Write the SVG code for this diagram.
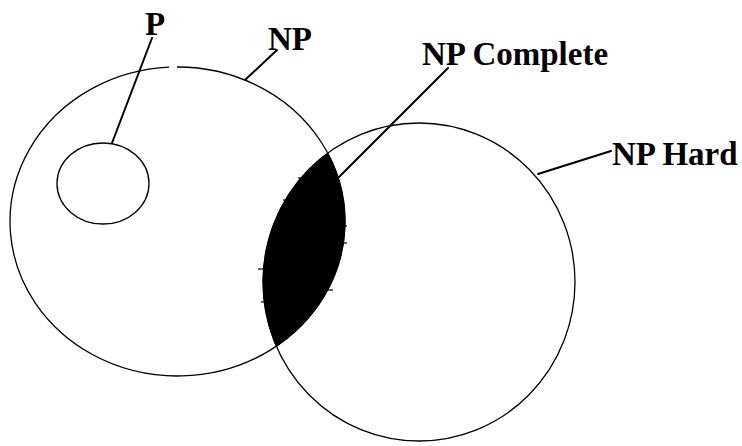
<svg xmlns="http://www.w3.org/2000/svg" width="742" height="446" viewBox="0 0 742 446">
<style>
.set{fill:none;stroke:#000;stroke-width:1.3}
.lbl{font-family:"Liberation Serif","Times New Roman",serif;font-weight:bold;font-size:33px;fill:#000}
.lead{stroke:#000;stroke-width:2;fill:none;stroke-linecap:round}
.tick{stroke:#000;stroke-width:1.2}
</style>
<rect width="742" height="446" fill="#fff"/>
<g id="np-hard">
<ellipse class="set" cx="419" cy="282" rx="156" ry="159"/>
<text class="lbl" x="612" y="165">NP Hard</text>
</g>
<g id="np">
<path class="set" d="M177,67 A167.5,154.5 0 1 1 169,67.2"/>
<text class="lbl" x="268" y="50">NP</text>
</g>
<g id="p">
<ellipse class="set" cx="103" cy="183.5" rx="46" ry="40.5"/>
<text class="lbl" x="145" y="35">P</text>
</g>
<g id="np-complete">
<path d="M327.7,153.1 A156,159 0 0 0 276.4,346.25 A167.5,154.5 0 0 0 327.7,153.1 Z" fill="#000" stroke="#000" stroke-width="1"/>
<line class="tick" x1="298" y1="178" x2="303" y2="178"/>
<line class="tick" x1="283" y1="200" x2="287" y2="200"/>
<line class="tick" x1="258" y1="269" x2="265" y2="269"/>
<line class="tick" x1="261" y1="302" x2="265" y2="302"/>
<line class="tick" x1="344" y1="226" x2="347" y2="226"/>
<line class="tick" x1="344" y1="243" x2="347" y2="243"/>
<line class="tick" x1="328" y1="290" x2="333" y2="290"/>
<text class="lbl" x="422" y="65">NP Complete</text>
</g>
<g id="connectors">
<line class="lead" x1="112" y1="143" x2="152" y2="38"/>
<line class="lead" x1="245" y1="80" x2="277" y2="50" stroke-width="1.6"/>
<line class="lead" x1="339" y1="177" x2="448" y2="68"/>
<line class="lead" x1="538" y1="174" x2="611" y2="151"/>
</g>
</svg>
